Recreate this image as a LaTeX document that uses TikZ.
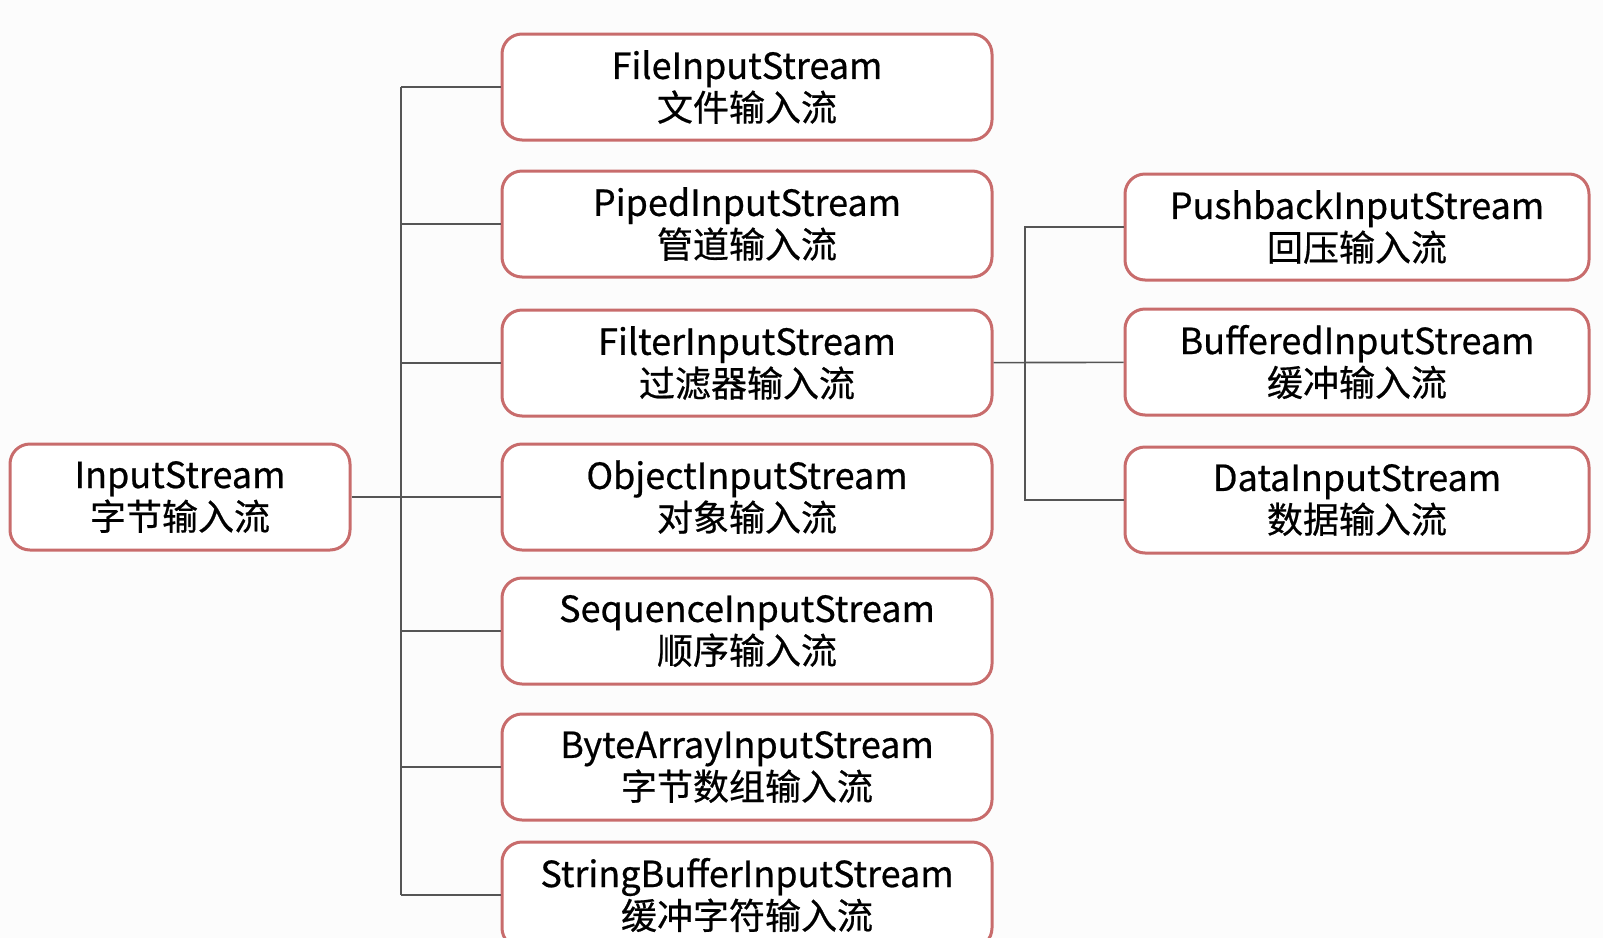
\documentclass[tikz,border=0pt]{standalone}
\usepackage{fontspec}
\setmainfont[FakeBold=0.6]{Noto Sans CJK SC}
\usetikzlibrary{positioning}
\tikzset{>=stealth}
\definecolor{boxred}{RGB}{200,108,108}
\definecolor{linegray}{RGB}{85,85,85}
\colorlet{background}{white!99!black}
\tikzset{
	stream/.style={draw=boxred, line width=1.5pt, rounded corners=10pt, fill=white, align=center,
		font=\fontsize{18}{21}\selectfont, inner sep=0pt, minimum height=53pt},
	midstream/.style={stream, minimum width=245pt},
	substream/.style={stream, minimum width=232pt},
	link/.style={draw=linegray, line width=0.8pt}
}

\begin{document}
\begin{tikzpicture}[x=0.5pt,y=-0.5pt]
				\fill[background] (0,0) rectangle (1603,938);
				\useasboundingbox (0,0) rectangle (1603,938);
				\coordinate (lt) at (401,0);
				\coordinate (rt) at (1025,0);
				\node[stream, minimum width=170pt] (input) at (180,497) {InputStream\\字节输入流};
				\node[midstream] (file) at (747,87) {FileInputStream\\文件输入流};
				\node[midstream] (piped) at (747,224) {PipedInputStream\\管道输入流};
				\node[midstream] (filter) at (747,363) {FilterInputStream\\过滤器输入流};
				\node[midstream] (object) at (747,497) {ObjectInputStream\\对象输入流};
				\node[midstream] (seq) at (747,631) {SequenceInputStream\\顺序输入流};
				\node[midstream] (bytes) at (747,767) {ByteArrayInputStream\\字节数组输入流};
				\node[midstream] (sbuf) at (747,895) {StringBufferInputStream\\缓冲字符输入流};
				\node[substream] (push) at (1357,227) {PushbackInputStream\\回压输入流};
				\node[substream] (buffered) at (1357,362) {BufferedInputStream\\缓冲输入流};
				\node[substream] (data) at (1357,500) {DataInputStream\\数据输入流};
				% left tree
				\draw[link] (input) -- (object);
				\foreach \n in {file,piped,filter,seq,bytes,sbuf}
					\draw[link] (\n.west) -- (\n.west -| lt);
				\draw[link] (file.west -| lt) -- (sbuf.west -| lt);
				% right tree
				\draw[link] (filter) -- (buffered);
				\draw[link] (push.west) -- (push.west -| rt) -- (data.west -| rt) -- (data.west);
\end{tikzpicture}
\end{document}
